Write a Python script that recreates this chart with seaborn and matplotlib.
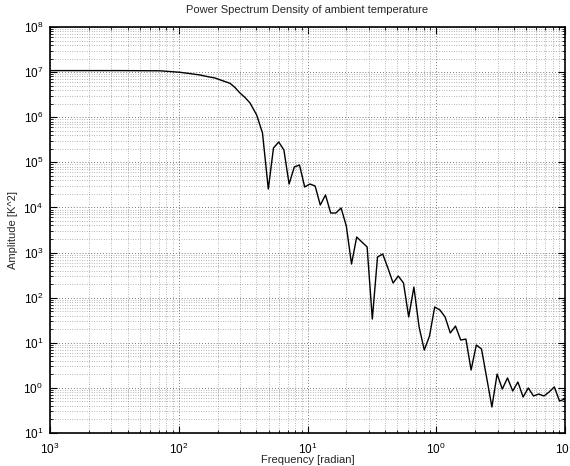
import numpy as np
import pandas as pd
import matplotlib
matplotlib.use('Agg')
import matplotlib.pyplot as plt
import matplotlib.ticker as mticker
import seaborn as sns

# values
freq = [0.001, 0.0035, 0.005, 0.00715, 0.00855, 0.01023, 0.01223, 0.01462,
        0.01658, 0.01912, 0.02167, 0.02501, 0.02734, 0.0299, 0.0327,
        0.03576, 0.0403, 0.04471,
        0.04961, 0.05442, 0.05975, 0.06557, 0.07195, 0.07896, 0.08667, 0.09512,
        0.1044, 0.1146, 0.1257, 0.138, 0.1514, 0.1662, 0.1824, 0.2002, 0.2197,
        0.241, 0.2646, 0.2904, 0.3187, 0.3498, 0.3838, 0.4212, 0.4622, 0.5072,
        0.5567, 0.6109, 0.6705, 0.7357, 0.8075, 0.8862, 0.9727, 1.0675, 1.1715,
        1.2857, 1.411, 1.5486, 1.6995, 1.8651, 2.0469, 2.2465, 2.4654, 2.7057,
        2.9694, 3.2584, 3.576, 3.9247, 4.3072, 4.7273, 5.188, 5.6925, 6.2476,
        6.8565, 7.5253, 8.2594, 9.0645, 10.0]
amp = [1.08e7, 1.08e7, 1.075e7, 1.069e7, 1.03e7, 9.9e6, 9.27e6, 8.63e6,
       7.99e6, 7.4e6, 6.52e6, 5.65e6, 4.56e6, 3.44e6, 2.74e6,
       2.07e6, 1.12e6, 4.47e5,
       2.56e4, 2.08e5, 2.82e5, 1.88e5, 3.31e4, 7.88e4, 8.73e4, 2.84e4,
       3.31e4, 2.99e4, 1.13e4, 1.89e4, 7.53e3, 7.53e3, 9.72e3, 3.88e3, 557,
       2.21e3, 1.71e3, 1.33e3, 33.6, 797, 928, 454, 211, 302,
       211, 37.3, 172, 22.4, 6.91, 14.1, 62.1, 53.3, 37.3,
       16.5, 23.5, 11.5, 12.1, 2.49, 8.92, 7.28, 1.66, 0.377,
       2.03, 0.944, 1.66, 0.853, 1.35, 0.628, 0.994, 0.661, 0.732,
       0.661, 0.81, 1.05, 0.512, 0.567]

xticks = [1e-3, 1e-2, 1e-1, 1e0, 1e1]
xticklabels = ['$10^{3}$', '$10^{2}$', '$10^{1}$', '$10^{0}$', '$10^{1}$']
yticks = [1e-1, 1e0, 1e1, 1e2, 1e3, 1e4, 1e5, 1e6, 1e7, 1e8]
yticklabels = ['$10^{1}$', '$10^{0}$', '$10^{1}$', '$10^{2}$', '$10^{3}$',
               '$10^{4}$', '$10^{5}$', '$10^{6}$', '$10^{7}$', '$10^{8}$']

df = pd.DataFrame({'freq': freq, 'amp': amp})

sns.set_style('white')
plt.rcParams['font.family'] = ['Liberation Sans', 'DejaVu Sans']
plt.rcParams['mathtext.default'] = 'regular'
plt.rcParams['font.size'] = 8

fig = plt.figure(figsize=(5.7, 4.66), dpi=100)
ax = fig.add_axes([50/570, 1-433/466, 515/570, 406/466])
ax.set_xscale('log')
ax.set_yscale('log')

sns.lineplot(data=df, x='freq', y='amp', sort=False, estimator=None,
             color='black', linewidth=1.0, ax=ax)

ax.set_xlim(1e-3, 1e1)
ax.set_ylim(1e-1, 1e8)
ax.xaxis.set_major_locator(mticker.FixedLocator(xticks))
ax.xaxis.set_major_formatter(mticker.FixedFormatter(xticklabels))
ax.yaxis.set_major_locator(mticker.FixedLocator(yticks))
ax.yaxis.set_major_formatter(mticker.FixedFormatter(yticklabels))
ax.xaxis.set_minor_locator(mticker.LogLocator(base=10, subs=np.arange(2, 10), numticks=20))
ax.yaxis.set_minor_locator(mticker.LogLocator(base=10, subs=np.arange(2, 10), numticks=20))
ax.xaxis.set_minor_formatter(mticker.NullFormatter())
ax.yaxis.set_minor_formatter(mticker.NullFormatter())

ax.tick_params(which='both', direction='in', top=True, right=True,
               bottom=True, left=True, colors='black', labelsize=8.5)
ax.tick_params(which='major', length=5, width=0.8)
ax.tick_params(axis='x', which='major', pad=6)
ax.tick_params(axis='y', which='major', pad=5)
ax.tick_params(which='minor', length=2.5, width=0.6)

ax.grid(True, which='major', color='0.3', linestyle=(0, (1, 2.5)), linewidth=0.6)
ax.grid(True, which='minor', color='0.45', linestyle=(0, (1, 2.5)), linewidth=0.5)

for s in ax.spines.values():
    s.set_color('black')
    s.set_linewidth(1.2)

ax.set_title('Power Spectrum Density of ambient temperature', fontsize=8, pad=10)
ax.set_xlabel('Frequency [radian]', fontsize=8, labelpad=-1)
ax.set_ylabel('Amplitude [K^2]', fontsize=8, labelpad=4)

fig.savefig('out.png', dpi=100)
